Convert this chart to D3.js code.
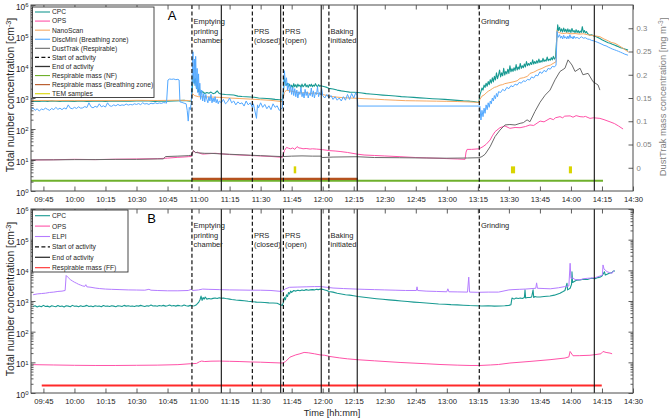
<!DOCTYPE html>
<html><head><meta charset="utf-8">
<script src="https://cdn.jsdelivr.net/npm/d3@7"></script>
<style>body{margin:0;background:#fff}svg{display:block;font-family:"Liberation Sans",Arial,Helvetica,sans-serif}</style>
</head><body><svg id="c" width="669" height="420"></svg>
<script>
// ---------- DATA (time = minutes after 09:00) ----------
const xTickMinutes = [45,60,75,90,105,120,135,150,165,180,195,210,225,240,255,270,285,300,315,330];
const activityStarts = [116.8, 146, 161, 183, 255.7];
const activityEnds = [131, 159.7, 179.3, 196.7, 311.3];
const activityLabels = [["Emptying","printing","chamber"],["","PRS","(closed)"],["","PRS","(open)"],["","Baking","initiated"],["Grinding"]];
const rightTicks = [0,0.05,0.1,0.15,0.2,0.25,0.3];

const cpcA = [[39,760],[41,790],[43,770],[45,800],[47,780],[49,810],[51,790],[53,770],[55,800],[57,790],[60,780],[63,800],[66,770],[69,790],[72,800],[75,780],[78,800],[81,790],[84,810],[87,790],[90,800],[93,820],[96,800],[99,780],[102,800],[105,790],[108,810],[111,820],[113,840],[115,800],[116.5,780],
[117,2200],[117.5,5500],[118,3000],[118.5,4200],[119,2000],[119.5,2800],[120,1600],[120.5,1900],[121,1450],[122,1600],[123,1400],[124,1500],[125,1420],[126,1550],[127,1380],[128,1450],[129,1700],[130,1400],[131,1350],[133,1300],[135,1280],[137,1250],[139,1150],[141,1120],[143,1100],[145,1080],[147,1060],[149,1000],[151,980],[153,960],[155,940],[157,900],[159,880],[160.5,870],
[161,1500],[161.5,4400],[162,3200],[162.5,2600],[163,3000],[163.5,2300],[164,2800],[164.5,2200],[165,2600],[165.5,2100],[166,2900],[166.5,2300],[167,2700],[167.5,2200],[168,2800],[168.5,2400],[169,2600],[169.5,2200],[170,2800],[170.5,2300],[171,2500],[171.5,2900],[172,2300],[172.5,2600],[173,2200],[173.5,2700],[174,2400],[174.5,2800],[175,2300],[175.5,2600],[176,2400],[176.5,2900],[177,2500],[177.5,2300],[178,2700],[178.5,2400],[179,2500],[180,2400],[181,2300],[182,2200],[183,2050],[185,1950],[187,1800],[189,1700],[191,1620],[193,1550],[195,1530],[197,1500],[199,1450],[201,1380],[203,1340],[206,1290],[209,1240],[212,1200],[215,1160],[218,1110],[221,1080],[224,1050],[227,1010],[230,980],[233,950],[236,930],[239,900],[242,870],[245,840],[248,810],[251,790],[253,770],[255.5,720],
[256,1250],[256.5,1600],[257,2100],[257.5,1800],[258,2600],[258.5,2200],[259,3000],[259.5,2400],[260,3400],[260.5,2700],[261,3900],[261.5,3000],[262,4500],[262.5,3300],[263,5000],[263.5,3800],[264,6500],[264.5,4200],[265,5500],[265.5,8000],[266,4800],[266.5,6500],[267,5200],[267.5,9000],[268,5500],[268.5,7200],[269,6000],[269.5,8500],[270,6200],[270.5,11000],[271,7000],[271.5,8800],[272,7200],[272.5,9500],[273,7600],[273.5,12000],[274,8000],[274.5,10000],[275,8500],[275.5,13000],[276,9000],[276.5,11000],[277,9500],[277.5,12500],[278,10000],[278.5,15000],[279,11000],[279.5,13000],[280,11500],[280.5,14000],[281,12000],[281.5,17000],[282,12500],[282.5,15000],[283,13000],[283.5,16000],[284,13500],[284.5,18000],[285,14000],[285.5,16000],[286,14500],[286.5,19000],[287,15000],[287.5,17000],[288,15500],[288.5,21000],[289,16000],[289.5,18000],[290,16500],[290.5,20000],[291,17000],[291.5,22000],[292,18000],[292.5,20000],
[293.3,120000],[293.6,230000],[294,150000],[294.5,190000],[295,140000],[295.5,170000],[296,135000],[296.5,180000],[297,140000],[297.5,165000],[298,130000],[298.5,170000],[299,135000],[299.5,160000],[300,130000],[300.5,175000],[301,135000],[301.5,150000],[302,128000],[302.5,160000],[303,130000],[303.5,150000],[304,125000],[304.5,145000],[305,130000],[305.5,200000],[306,130000],[306.5,150000],[307,125000],[307.5,140000],[308,120000],[309,107000],[310,110000],[311,100000],[312,96000],[313,90000],[314,83000],[315,76000],[316,70000],[317,65000],[318,61000],[319,58000],[320,54000],[321,51000],[322,48000],[323,45000],[324,42000],[325,40000],[326,38000],[327.6,35000]];

const opsA = [[39,10],[50,10.2],[60,10.5],[70,10.3],[80,10.6],[90,10.8],[100,11],[105,11.5],[110,12.2],[113,12.5],[115,12.8],[116.5,13],[117.5,20],[118.5,17],[119.5,18],[120.5,16.5],[122,15.5],[125,16],[128,16.5],[131,15.8],[135,15],[140,14.5],[145,14],[150,13.5],[155,13],[160.5,12.2],[161.5,20],[162.5,25.5],[163.5,24],[164.5,23],[165.5,24.5],[166.5,22],[167.6,27],[168.5,24.5],[169.5,24],[170.5,23],[172,23.5],[173.9,22.5],[175,23],[177,22.5],[178.7,22],[180,21.5],[183.5,20],[186,19.5],[188.4,18.8],[192,17.5],[196.6,15.5],[200,14.5],[205,14],[210,13.5],[217.4,12.8],[225,12],[236.7,11.3],[245,10.8],[248.8,10.5],[249.3,18],[249.8,22],[252,22],[255.6,23],[257.5,27],[259,32],[260.9,44],[262,60],[263.3,82],[265.7,110],[268.1,125],[270.5,105],[273,112],[275.4,110],[278,120],[280.2,135],[282,130],[285.1,180],[287,170],[289.9,220],[291.5,200],[292.5,230],[294.7,250],[296,230],[297,260],[299.6,265],[301,240],[302.5,270],[304.4,250],[306,245],[307,255],[309.2,220],[311,230],[314,220],[316,200],[318.9,170],[321,150],[323,125],[325.2,100]];

const nanoA = [[39,820],[45,830],[50,810],[55,830],[60,820],[70,830],[80,820],[90,840],[100,830],[110,850],[115,830],[116.5,800],[117,1400],[118,1200],[120,1100],[125,1080],[130,1050],[135,1000],[140,960],[145,920],[150,880],[155,840],[160.5,760],[161.5,1500],[162.5,1800],[164,1700],[166,1600],[168,1500],[170,1450],[172,1500],[174,1400],[176,1450],[178,1380],[180,1300],[183,1150],[186,1080],[190,1020],[196.6,980],[200,950],[205,920],[210,880],[215,850],[220,820],[225,810],[230,800],[235,790],[240,780],[245,770],[250,750],[255.6,720],[256,900],[257,1150],[258,1250],[259,1450],[260,1650],[261,1800],[262,2000],[263,2200],[264,2300],[265.7,2600],[267,2700],[268,2900],[270,3100],[272,3300],[274,3600],[275.4,4300],[277,4500],[279,5000],[280.2,6200],[282,6800],[284,8000],[286,9000],[288,10500],[290,11500],[292.8,14800],[293.3,150000],[294,130000],[296,120000],[298,125000],[300,118000],[302,120000],[304,115000],[306,118000],[308,110000],[310,105000],[312,100000],[314,95000],[316,80000],[318,70000],[319.5,62000],[321.3,58000],[323,50000],[325.2,40000],[327.6,31000]];

const discA = [[39,420],[40,480],[41,400],[42,450],[43,380],[44,440],[45,420],[46,470],[47,430],[48,400],[49,460],[50,420],[51,500],[52,430],[53,470],[54,420],[55,480],[56,440],[57,600],[58,470],[59,450],[60,500],[61,460],[62,520],[63,470],[64,480],[65,530],[66,490],[67,700],[68,520],[69,480],[70,540],[71,500],[72,650],[73,520],[74,560],[75,510],[76,700],[77,560],[78,540],[79,600],[80,560],[81,620],[82,570],[83,600],[84,580],[85,640],[86,590],[87,620],[88,600],[89,650],[90,620],[91,660],[92,610],[93,700],[94,640],[95,660],[96,620],[97,680],[98,650],[99,700],[100,660],[101,690],[102,670],[103,710],[104,700],[104.5,680],[105.2,3800],[106,4100],[107,4000],[108,4100],[109,3900],[110,4000],[110.6,3800],[111,750],[112,720],[113,680],[114,650],[114.5,400],[115,180],[115.5,500],[116,420],[116.5,700],
[117,8000],[117.3,31000],[117.6,3000],[118,18000],[118.3,2500],[118.6,22000],[119,2000],[119.3,9000],[119.6,1500],[120,6000],[120.3,1200],[120.6,3000],[121,900],[121.5,1800],[122,800],[122.5,1400],[123,750],[123.5,1300],[124,900],[124.5,700],[125,1100],[125.5,800],[126,1300],[126.5,700],[127,1000],[127.5,750],[128,1100],[128.5,700],[129,900],[129.5,650],[130,800],[131,700],[132,900],[133,650],[134,750],[135,1000],[136,700],[137,800],[138,600],[139,750],[140,650],[141,700],[142,550],[143,800],[144,600],[145,700],[146,500],[146.5,650],[147,450],[148,220],[148.5,600],[149,480],[150,700],[151,500],[152,620],[153,450],[154,560],[155,420],[156,650],[157,500],[158,560],[159,400],[160.5,480],
[161,2000],[161.5,7600],[162,2500],[162.5,4500],[163,1800],[163.5,3000],[164,1500],[164.5,2500],[165,1300],[165.5,2200],[166,1200],[166.5,2000],[167,1100],[167.5,1800],[168,1000],[168.5,1600],[169,1300],[169.5,2200],[170,1100],[170.5,1500],[171,1000],[171.5,1900],[172,1200],[172.5,1600],[173,1000],[173.5,1400],[174,1200],[174.5,2100],[175,1100],[175.5,1700],[176,1000],[176.5,1500],[177,1300],[177.5,2300],[178,1100],[178.5,1500],[179,1250],[179.5,2000],[180,1200],[181,1000],[182,1300],[183,1000],[184,1200],[185,900],[186,1100],[187,850],[188,1000],[189,800],[190,1100],[191,850],[192,1300],[193,900],[194,1400],[195,1000],[196,1500],[196.6,1200],[197,550],[256,550],
[256.5,195],[257,400],[257.5,250],[258,470],[258.5,320],[259,600],[259.5,420],[260,700],[260.5,500],[261,800],[261.5,650],[262,1000],[262.5,800],[263,1200],[263.5,950],[264,1400],[264.5,1100],[265,1600],[266,1500],[267,1900],[268,1700],[269,2200],[270,2000],[271,2500],[272,2300],[273,2800],[274,2600],[275,3200],[276,3000],[277,3600],[278,3400],[279,4000],[280,3800],[281,4800],[282,4400],[283,5500],[284,5200],[285,7000],[286,6200],[287,7800],[288,7000],[289,9000],[290,8500],[291,10500],[292,10000],[292.8,11500],[293.3,140000],[293.8,90000],[294.5,110000],[295,85000],[295.5,100000],[296,80000],[296.5,105000],[297,85000],[297.5,95000],[298,80000],[298.5,100000],[299,82000],[299.5,110000],[300,85000],[300.5,95000],[301,80000],[301.5,100000],[302,85000],[303,90000],[304,82000],[305,95000],[306,85000],[307,88000],[308,80000],[309,78000],[310,72000],[311,70000],[312,66000],[313,62000],[314,58000],[315,54000],[316,50000],[317,48000],[318,44000],[319,41000],[320,38000],[321,36000],[322,34000],[323,32000],[324,30000],[325,28000],[326,26000],[327.6,24000]];

const dustA = [[39,0.017],[50,0.017],[60,0.0175],[70,0.0175],[80,0.018],[90,0.018],[100,0.019],[103,0.019],[104,0.024],[110,0.025],[115,0.026],[116.5,0.027],[117.5,0.037],[118.5,0.033],[120,0.032],[123,0.031],[126,0.031],[130,0.030],[135,0.029],[140,0.028],[145,0.027],[150,0.026],[155,0.025],[160.5,0.024],[165,0.025],[170,0.0255],[175,0.025],[179.3,0.025],[179.8,0.022],[185,0.023],[196.6,0.0237],[205,0.022],[217,0.0216],[230,0.021],[240,0.0205],[250,0.021],[255.6,0.0216],[257,0.024],[258.5,0.029],[260.9,0.045],[263.3,0.067],[265.7,0.081],[268.1,0.092],[270.5,0.093],[273,0.092],[275.4,0.0955],[277,0.097],[278.8,0.103],[280.2,0.099],[282.6,0.121],[285.1,0.141],[287.5,0.156],[289.9,0.167],[292.3,0.189],[294.7,0.207],[297.1,0.214],[298.6,0.232],[300.5,0.221],[302,0.207],[304.4,0.214],[305.8,0.2],[308.3,0.203],[310.7,0.185],[313.1,0.178],[314,0.167]];

// sampling periods: [start, end, level]
const respNF = [[30, 315.5, -0.028]];
const respBZ = [[116.8, 197, -0.024]];
const temSamples = [[166, 167.2], [271, 273], [299, 300.5]];
const temLevel = [-0.012, 0.003];

const cpcB = [[40,660],[41,700],[42,640],[43,690],[44,650],[45,720],[46,660],[47,680],[48,640],[49,700],[50,670],[51,650],[52,710],[53,660],[54,690],[55,640],[56,700],[57,680],[58,650],[59,720],[60,670],[61,690],[62,650],[63,700],[64,660],[65,680],[66,720],[67,660],[68,690],[69,650],[70,700],[71,670],[72,690],[73,650],[74,710],[75,670],[76,690],[77,660],[78,700],[79,680],[80,650],[81,700],[82,690],[83,660],[84,720],[85,680],[86,700],[87,670],[88,690],[89,660],[90,700],[91,680],[92,720],[93,690],[94,660],[95,700],[96,680],[97,740],[98,690],[99,700],[100,670],[101,710],[102,690],[103,720],[104,680],[105,700],[106,740],[107,690],[108,710],[109,680],[110,720],[111,700],[112,690],[113,740],[114,700],[115,680],[116,720],[117,690],[118,700],[119,760],[120,900],[120.7,1100],[121.2,1450],[121.7,1050],[122.2,1300],[122.7,1150],[123.2,1350],[124,1150],[125,1200],[126,1160],[127,1220],[128,1250],[129,1200],[130,1280],[131,1230],[132,1250],[133,1200],[134,1180],[135,1150],[136,1120],[137,1100],[138,1080],[140,1050],[142,1020],[144,980],[146,950],[148,920],[150,910],[152,890],[154,870],[156,860],[158,840],[159.5,760],[160.5,720],[161,900],[161.5,1300],[162,1100],[162.5,1600],[163,1400],[163.5,1900],[164,1700],[164.5,2100],[165,1900],[166,2200],[167,2100],[168,2250],[169,2150],[170,2300],[171,2200],[172,2350],[173,2250],[174,2300],[175,2350],[176,2300],[177,2400],[178,2350],[179,2450],[180,2400],[181,2300],[182,2200],[183,2050],[185,1950],[187,1800],[189,1700],[191,1600],[193,1550],[195,1480],[197,1400],[200,1320],[203,1250],[206,1190],[209,1140],[212,1090],[215,1050],[218,1000],[221,960],[224,920],[227,890],[230,860],[233,830],[236,800],[239,780],[242,760],[245,750],[248,730],[251,710],[254,700],[257,690],[260,700],[263,680],[266,690],[268,700],[270,720],[271,760],[271.5,1250],[272.5,1150],[273.5,1250],[274.5,1200],[275.5,1250],[276.5,1200],[277.5,1300],[277.8,2300],[278.1,1250],[279,1300],[280.2,1300],[281,1350],[281.7,2300],[282,1300],[282.6,1400],[283.5,1350],[285.1,1350],[287,1400],[289.9,1450],[292,1550],[294.7,1800],[296,2000],[297.1,2200],[298.1,3800],[298.4,2300],[299.6,2600],[300.3,3500],[300.5,9000],[300.8,4000],[302,4500],[303,4800],[304.4,4900],[306,5100],[308,5000],[309,5300],[310,5500],[311.6,5300],[313,5800],[314,6000],[315,6500],[316.2,9000],[316.6,7000],[317.5,7500],[318.5,8000],[319.9,8500],[320.5,9500],[321.3,9500]];

const opsB = [[40,8.4],[50,8.2],[60,8],[70,7.9],[80,7.9],[90,8],[100,8.1],[110,8.4],[116,9],[119,9.2],[120.5,10.5],[121.5,11],[123,10.6],[126,10.9],[130,11],[135,10.8],[140,10.6],[145,10.3],[150,10.1],[155,9.8],[160.5,9.5],[162,10.5],[164.2,14.8],[167,17.5],[169,19],[171,21],[173,20.5],[176,19],[178.7,17.5],[181,17],[183.5,15.5],[188,14],[192,13],[196.6,12.2],[205,11.2],[217.4,9.9],[230,9],[236.7,8.5],[245,8.1],[251.2,7.9],[256,7.9],[261,8.2],[265,8.5],[270.5,9.5],[280.2,10.7],[289.9,12.2],[297.1,13.8],[299,15],[299.6,22.6],[301,16.4],[304,16.5],[309.2,17],[311.6,17.8],[314.5,19],[315.5,22.6],[317,21],[318.9,20],[319.9,19]];

const elpiB = [[40,1600],[42,1700],[44,1750],[46,1800],[48,1900],[50,1950],[52,2050],[54,2100],[55.5,2200],[56,6800],[57,5800],[58,5000],[59,4500],[60,4100],[61,3800],[62,3500],[63,3300],[64,3100],[65,3000],[65.5,3400],[66,2900],[68,2800],[70,2650],[72,2550],[75,2450],[78,2400],[82,2350],[86,2300],[90,2280],[94,2250],[96,2400],[97,2250],[100,2200],[105,2150],[110,2150],[115,2200],[116.5,2400],[117,2200],[120,2300],[122,2450],[125,2400],[130,2350],[135,2300],[140,2280],[145,2250],[150,2250],[155,2200],[160,2050],[161,2200],[162,2500],[164,2800],[168,2850],[172,2900],[176,2950],[179,2950],[182,2800],[185,2650],[190,2550],[196,2450],[200,2400],[205,2350],[210,2300],[215,2250],[220,2200],[225.3,2200],[225.6,2900],[225.9,2200],[230,2100],[235,2050],[240,2000],[240.5,2500],[241,2000],[245,1980],[250,1950],[250.6,6000],[251,1950],[255,1920],[260,1950],[265,1950],[270,2300],[272,2350],[275,2400],[278,2450],[283,2600],[283.4,3900],[283.8,2600],[287,2550],[290,2500],[294,2700],[297,2950],[299,3100],[299.6,17000],[300,5500],[301,5600],[302,5000],[304.4,4900],[306,5300],[308,5500],[311.6,5700],[313,6200],[314,6500],[315.2,7000],[315.5,15000],[316,11000],[317.4,9100],[318.5,8500],[319.9,8000],[320.8,9900]];

const respFF = [[44.2, 314.9, 1.77]];

// ---------- STYLE ----------
const C = {cpc:"#189a92", ops:"#ff52a8", nano:"#f6a862", disc:"#52a8ff", dust:"#6a6a6a", nf:"#6fb02c", bz:"#b5521f", tem:"#d9d400", elpi:"#b47cff", ff:"#ff2a2a", axis:"#333", gray:"#808080"};

const svg = d3.select("#c");
svg.append("rect").attr("width",669).attr("height",420).attr("fill","#fff");
const base = new Date(2020,0,1,9,0,0);
const T = m => new Date(base.getTime()+m*60000);
const L = 31, R = 633;
const x = d3.scaleTime().domain([T(39),T(330)]).range([L,R]);
const fmt = d3.timeFormat("%H:%M");

const panels = {
  A: {top:5, bottom:191},
  B: {top:209, bottom:393}
};
const yA = d3.scaleLog().domain([1,1e6]).range([panels.A.bottom, panels.A.top]);
const yR = d3.scaleLinear().domain([-0.05,0.35]).range([panels.A.bottom, panels.A.top]);
const yB = d3.scaleLog().domain([1,1e6]).range([panels.B.bottom, panels.B.top]);

const majors = [1,10,100,1e3,1e4,1e5,1e6];
const minors = [];
for (let k=0;k<6;k++) for (let m=2;m<10;m++) minors.push(m*Math.pow(10,k));

function supLabels(g){
  g.selectAll(".tick text").each(function(d){
    const t = d3.select(this); t.text("");
    t.append("tspan").text("10");
    t.append("tspan").attr("dy","-0.45em").attr("font-size","0.72em").text(Math.round(Math.log10(d)));
  });
}
function styleAxis(g){
  g.select(".domain").remove();
  g.selectAll(".tick line").attr("stroke",C.axis).attr("stroke-width",0.8);
  g.selectAll(".tick text").attr("fill","#262626").attr("font-family",null);
}

function drawPanel(key, y, series, clipId){
  const p = panels[key];
  const defs = svg.append("defs");
  defs.append("clipPath").attr("id",clipId).append("rect").attr("x",L).attr("y",p.top).attr("width",R-L).attr("height",p.bottom-p.top);
  const g = svg.append("g").attr("clip-path",`url(#${clipId})`);
  series.forEach(s=>{
    const line = d3.line().x(d=>x(T(d[0]))).y(d=>s.scale(d[1]));
    g.append("path").datum(s.data).attr("fill","none").attr("stroke",s.color).attr("stroke-width",s.w||1).attr("stroke-linejoin","round").attr("d",line);
  });
  return g;
}

function activityLines(g, p){
  activityStarts.forEach(t=>{
    g.append("line").attr("x1",x(T(t))).attr("x2",x(T(t))).attr("y1",p.top).attr("y2",p.bottom)
      .attr("stroke","#111").attr("stroke-width",1.2).attr("stroke-dasharray","4,2.4");
  });
  activityEnds.forEach(t=>{
    g.append("line").attr("x1",x(T(t))).attr("x2",x(T(t))).attr("y1",p.top).attr("y2",p.bottom)
      .attr("stroke","#111").attr("stroke-width",1.1);
  });
  activityStarts.forEach((t,i)=>{
    const txt = svg.append("text").attr("x",x(T(t))+1.6).attr("y",p.top+19.3).attr("font-size",7.5).attr("fill","#262626");
    activityLabels[i].forEach((s,j)=>{
      txt.append("tspan").attr("x",x(T(t))+1.6).attr("y",p.top+19.3+j*9.4).attr("fill","#262626").text(s);
    });
  });
}

function frame(p, y, labels, rightLog){
  const xb = svg.append("g").attr("transform",`translate(0,${p.bottom})`)
    .call(d3.axisBottom(x).tickValues(xTickMinutes.map(T)).tickFormat(fmt).tickSizeInner(-4.5).tickSizeOuter(0).tickPadding(5.5));
  styleAxis(xb); xb.selectAll("text").attr("font-size",7.7);
  const xt = svg.append("g").attr("transform",`translate(0,${p.top})`)
    .call(d3.axisTop(x).tickValues(xTickMinutes.map(T)).tickFormat("").tickSizeInner(-4.5).tickSizeOuter(0));
  styleAxis(xt);
  const yl = svg.append("g").attr("transform",`translate(${L},0)`)
    .call(d3.axisLeft(y).tickValues(majors).tickSizeInner(-4.5).tickSizeOuter(0).tickPadding(2.5));
  styleAxis(yl); yl.selectAll("text").attr("font-size",8.3).attr("dy","0.55em"); supLabels(yl);
  const ylm = svg.append("g").attr("transform",`translate(${L},0)`)
    .call(d3.axisLeft(y).tickValues(minors).tickFormat("").tickSizeInner(-2.5).tickSizeOuter(0));
  styleAxis(ylm);
  if (rightLog){
    const yr = svg.append("g").attr("transform",`translate(${R},0)`)
      .call(d3.axisRight(y).tickValues(majors).tickFormat("").tickSizeInner(-4.5).tickSizeOuter(0));
    styleAxis(yr);
    const yrm = svg.append("g").attr("transform",`translate(${R},0)`)
      .call(d3.axisRight(y).tickValues(minors).tickFormat("").tickSizeInner(-2.5).tickSizeOuter(0));
    styleAxis(yrm);
  }
  svg.append("rect").attr("x",L).attr("y",p.top).attr("width",R-L).attr("height",p.bottom-p.top)
    .attr("fill","none").attr("stroke","#4a4a4a").attr("stroke-width",1);
}

// ----- Panel A -----
const gA = drawPanel("A", yA, [
  {data:cpcA, scale:yA, color:C.cpc, w:1.1},
  {data:opsA, scale:yA, color:C.ops, w:1},
  {data:nanoA, scale:yA, color:C.nano, w:1},
  {data:discA, scale:yA, color:C.disc, w:1},
  {data:dustA, scale:yR, color:C.dust, w:1}
], "clipA");
respNF.forEach(r=> gA.append("line").attr("x1",x(T(r[0]))).attr("x2",x(T(r[1]))).attr("y1",yR(r[2])).attr("y2",yR(r[2])).attr("stroke",C.nf).attr("stroke-width",2));
respBZ.forEach(r=> gA.append("line").attr("x1",x(T(r[0]))).attr("x2",x(T(r[1]))).attr("y1",yR(r[2])).attr("y2",yR(r[2])).attr("stroke",C.bz).attr("stroke-width",2.2));
temSamples.forEach(s=> gA.append("rect").attr("x",x(T(s[0]))).attr("width",x(T(s[1]))-x(T(s[0])))
  .attr("y",yR(temLevel[1])).attr("height",yR(temLevel[0])-yR(temLevel[1])).attr("fill",C.tem));
activityLines(gA, panels.A);
frame(panels.A, yA, true, false);
const yrA = svg.append("g").attr("transform",`translate(${R},0)`)
  .call(d3.axisRight(yR).tickValues(rightTicks).tickFormat(d=>String(+d.toFixed(2))).tickSizeInner(-4.5).tickSizeOuter(0).tickPadding(3.5));
styleAxis(yrA); yrA.selectAll("text").attr("font-size",7.7).attr("fill",C.gray);

// ----- Panel B -----
const gB = drawPanel("B", yB, [
  {data:cpcB, scale:yB, color:C.cpc, w:1.1},
  {data:opsB, scale:yB, color:C.ops, w:1},
  {data:elpiB, scale:yB, color:C.elpi, w:1}
], "clipB");
respFF.forEach(r=> gB.append("line").attr("x1",x(T(r[0]))).attr("x2",x(T(r[1]))).attr("y1",yB(r[2])).attr("y2",yB(r[2])).attr("stroke",C.ff).attr("stroke-width",2));
activityLines(gB, panels.B);
frame(panels.B, yB, true, true);

// ----- Panel letters -----
svg.append("text").attr("x",172).attr("y",20).attr("text-anchor","middle").attr("font-size",13).text("A");
svg.append("text").attr("x",151.5).attr("y",223).attr("text-anchor","middle").attr("font-size",13).text("B");

// ----- Axis titles -----
function yTitle(xp, yc, color, main, fs){
  const t = svg.append("text").attr("transform",`translate(${xp},${yc}) rotate(-90)`).attr("text-anchor","middle")
    .attr("font-size",fs).attr("fill",color);
  t.append("tspan").text(main);
  t.append("tspan").attr("dy","-0.4em").attr("font-size","0.7em").text("-3");
  t.append("tspan").attr("dy","0.4em").text("]");
  return t;
}
yTitle(13.5, 95, "#262626", "Total number concentration [cm", 10.4);
yTitle(13.5, 299, "#262626", "Total number concentration [cm", 10.4);
yTitle(666, 97, C.gray, "DustTrak mass concentration [mg m", 9.4);
svg.append("text").attr("x",332).attr("y",416).attr("text-anchor","middle").attr("font-size",9.3).attr("fill","#262626").text("Time [hh:mm]");

// ----- Legends -----
function legend(x0,y0,w,h,rowY0,dy,items){
  const g = svg.append("g");
  g.append("rect").attr("x",x0).attr("y",y0).attr("width",w).attr("height",h).attr("fill","#fff").attr("stroke","#333").attr("stroke-width",0.9);
  items.forEach((it,i)=>{
    const yy = rowY0 + i*dy;
    g.append("line").attr("x1",x0+2.5).attr("x2",x0+17.5).attr("y1",yy).attr("y2",yy)
      .attr("stroke",it.c).attr("stroke-width",it.w||1.1).attr("stroke-dasharray",it.dash||null);
    g.append("text").attr("x",x0+19.5).attr("y",yy+2.4).attr("font-size",6.7).attr("fill","#262626").text(it.t);
  });
}
legend(32.5,7,121.5,90.5,12,9.08,[
  {t:"CPC",c:C.cpc},{t:"OPS",c:C.ops},{t:"NanoScan",c:C.nano},{t:"DiscMini (Breathing zone)",c:C.disc},
  {t:"DustTrak (Respirable)",c:C.dust},{t:"Start of activity",c:"#111",dash:"4,2.4",w:1.2},{t:"End of activity",c:"#333",w:1.3},
  {t:"Respirable mass (NF)",c:C.nf},{t:"Respirable mass (Breathing zone)",c:C.bz},{t:"TEM samples",c:C.tem}
]);
legend(32.5,210,95.5,62,215.7,10.4,[
  {t:"CPC",c:C.cpc},{t:"OPS",c:C.ops},{t:"ELPI",c:C.elpi},
  {t:"Start of activity",c:"#111",dash:"4,2.4",w:1.2},{t:"End of activity",c:"#333",w:1.3},{t:"Respirable mass (FF)",c:C.ff}
]);
</script></body></html>
